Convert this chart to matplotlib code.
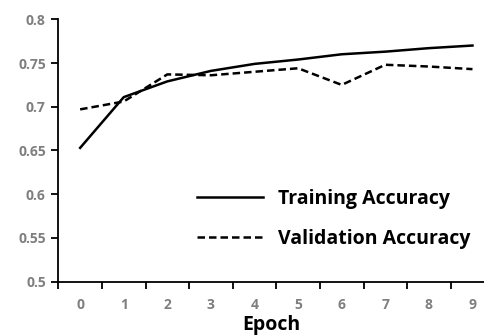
import matplotlib
matplotlib.use("Agg")
import matplotlib.pyplot as plt

# accuracy per epoch
epochs = [0, 1, 2, 3, 4, 5, 6, 7, 8, 9]
train_acc = [0.653, 0.711, 0.729, 0.741, 0.749, 0.754, 0.760, 0.763, 0.767, 0.770]
val_acc = [0.697, 0.706, 0.737, 0.736, 0.740, 0.744, 0.725, 0.748, 0.746, 0.743]
y_ticks = [0.5, 0.55, 0.6, 0.65, 0.7, 0.75, 0.8]
y_labels = ["0.5", "0.55", "0.6", "0.65", "0.7", "0.75", "0.8"]

plt.rcParams["font.family"] = ["Open Sans", "DejaVu Sans"]

fig = plt.figure(figsize=(4.85, 3.36), dpi=100)
ax = fig.add_axes([0.1203, 0.1616, 0.8797, 0.781])

ax.plot(epochs, train_acc, color="black", lw=1.8, label="Training Accuracy")
ax.plot(epochs, val_acc, color="black", lw=1.8, linestyle=(0, (3, 1.6)), label="Validation Accuracy")

ax.set_xlim(-0.5, 9.287)
ax.set_ylim(0.5, 0.8)

# category style axis: ticks between epochs, labels at centers
ax.set_xticks([e - 0.5 for e in epochs])
ax.set_xticklabels([])
ax.set_xticks(epochs, minor=True)
ax.set_xticklabels([str(e) for e in epochs], minor=True)
ax.tick_params(axis="x", which="minor", length=0, pad=12)
ax.tick_params(axis="x", which="major", length=5, width=1.3, direction="out")
ax.set_yticks(y_ticks)
ax.set_yticklabels(y_labels)
ax.tick_params(axis="y", length=5, width=1.3, pad=4)

for lab in ax.get_xticklabels(minor=True) + ax.get_yticklabels():
    lab.set_color("#7f7f7f")
    lab.set_fontweight("bold")
    lab.set_fontsize(10)

for side in ["top", "right"]:
    ax.spines[side].set_visible(False)
for side in ["left", "bottom"]:
    ax.spines[side].set_linewidth(1.3)

ax.set_xlabel("Epoch", fontsize=14, fontweight="bold", labelpad=2)

leg = ax.legend(loc="upper left", bbox_to_anchor=(0.406, 0.438), bbox_transform=fig.transFigure,
                frameon=False, borderpad=0, borderaxespad=0, handlelength=3.4, handletextpad=0.75,
                labelspacing=1.05, prop={"size": 14, "weight": "bold"})

plt.savefig("out.png", dpi=100)
